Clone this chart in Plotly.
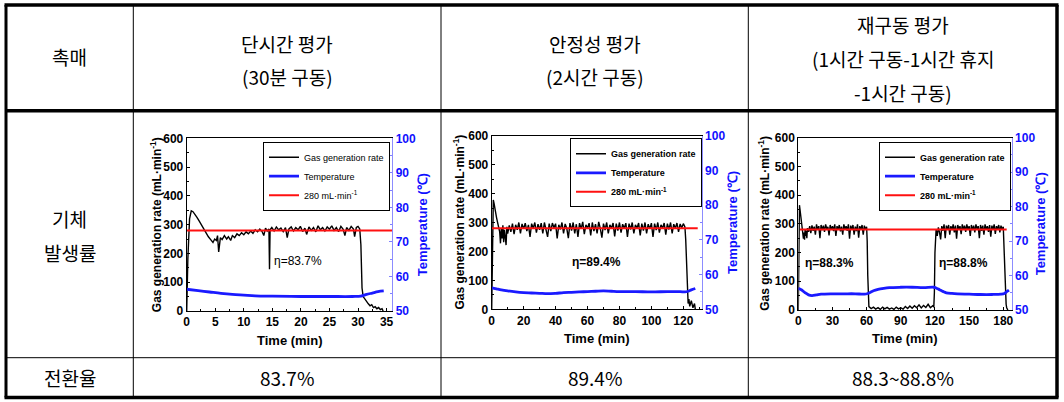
import plotly.graph_objects as go

W, H = 1064, 402

# ---------------- DATA ----------------
# Chart 1: short-term test (30 min)
SHORT_T = [0, 0.2, 0.5, 0.8, 1.1, 1.4, 1.8, 2.2, 2.6, 3.0,
           3.4, 3.8, 4.2, 4.6, 4.9, 5.2, 5.4, 5.6, 5.9, 6.2,
           6.6, 7.0, 7.3, 7.7, 8.0, 8.4, 8.8, 9.2, 9.6, 10.0,
           10.4, 10.8, 11.2, 11.6, 12.0, 12.4, 12.8, 13.2, 13.5, 13.8,
           14.1, 14.4, 14.5, 14.6, 14.9, 15.3, 15.7, 16.1, 16.5, 16.9,
           17.3, 17.6, 17.9, 18.3, 18.7, 19.1, 19.5, 19.9, 20.3, 20.7,
           21.0, 21.4, 21.8, 22.2, 22.6, 23.0, 23.4, 23.8, 24.2, 24.6,
           25.0, 25.4, 25.8, 26.2, 26.6, 27.0, 27.4, 27.7, 28.0, 28.4,
           28.8, 29.2, 29.4, 29.7, 30.0, 30.3, 30.5, 30.7, 30.9, 31.2,
           31.5, 31.8, 32.1, 32.4, 32.7, 33.0, 33.3, 33.6, 33.9, 34.2,
           34.4]
SHORT_GAS = [0, 180, 320, 348, 345, 338, 325, 312, 298, 285,
             270, 258, 248, 238, 250, 245, 262, 205, 255, 248,
             262, 250, 258, 245, 262, 255, 268, 262, 272, 265,
             275, 268, 278, 270, 282, 275, 285, 276, 262, 288,
             278, 285, 145, 282, 290, 278, 292, 282, 288, 276,
             290, 255, 285, 292, 278, 290, 282, 294, 276, 288,
             266, 292, 280, 290, 275, 296, 282, 290, 278, 292,
             284, 296, 280, 290, 276, 294, 284, 262, 290, 280,
             294, 285, 258, 290, 294, 285, 230, 80, 50, 40,
             32, 25, 18, 22, 12, 15, 8, 12, 5, 8,
             0]
SHORT_TEMP_T = [0, 2, 4, 6, 8, 10, 12, 15, 20, 25,
                29, 30.5, 31.5, 32.5, 33.5, 34.5]
SHORT_TEMP = [56.3, 55.9, 55.5, 55.1, 54.8, 54.6, 54.4, 54.3, 54.2, 54.2,
              54.2, 54.3, 54.8, 55.2, 55.6, 55.8]

# Chart 2: stability test (2 h)
STAB_T = [0, 0.5, 1.0, 1.5, 2.0, 2.5, 3.0, 3.5, 4.0, 4.5,
          5.0, 5.5, 6.0, 6.5, 7.0, 7.5, 8.0, 8.5, 9.0, 9.5,
          10, 11, 12, 13, 14, 15, 16, 17, 18, 19,
          20, 21, 22, 23, 24, 25, 26, 27, 28, 29,
          30, 31, 32, 33, 34, 35, 36, 37, 38, 39,
          40, 41, 42, 43, 44, 45, 46, 47, 48, 49,
          50, 51, 52, 53, 54, 55, 56, 57, 58, 59,
          60, 61, 62, 63, 64, 65, 66, 67, 68, 69,
          70, 71, 72, 73, 74, 75, 76, 77, 78, 79,
          80, 81, 82, 83, 84, 85, 86, 87, 88, 89,
          90, 91, 92, 93, 94, 95, 96, 97, 98, 99,
          100, 101, 102, 103, 104, 105, 106, 107, 108, 109,
          110, 111, 112, 113, 114, 115, 116, 117, 118, 119,
          120, 121, 121.5, 122, 122.5, 123, 123.5, 124, 125, 126,
          127, 127.5]
STAB_GAS = [0, 300, 378, 365, 345, 330, 318, 305, 292, 285,
            268, 228, 280, 245, 290, 232, 275, 250, 222, 285,
            262, 290, 268, 296, 260, 292, 275, 300, 262, 295,
            278, 298, 270, 292, 250, 296, 280, 300, 265, 294,
            275, 298, 262, 300, 278, 250, 296, 270, 298, 282,
            296, 245, 292, 276, 300, 262, 295, 280, 246, 298,
            272, 300, 262, 294, 250, 298, 278, 302, 260, 292,
            280, 298, 255, 300, 270, 294, 262, 302, 280, 248,
            296, 274, 300, 262, 292, 280, 298, 252, 296, 272,
            300, 265, 294, 280, 298, 250, 296, 276, 300, 262,
            292, 280, 298, 255, 296, 272, 300, 262, 294, 278,
            298, 250, 296, 274, 300, 265, 292, 280, 298, 258,
            296, 276, 300, 262, 294, 280, 298, 268, 295, 282,
            296, 285, 240, 150, 70, 20, 35, 10, 30, 5,
            20, 0]
STAB_TEMP_T = [0, 3, 6, 10, 15, 20, 25, 30, 35, 40,
               45, 50, 55, 60, 65, 70, 75, 80, 90, 100,
               110, 118, 121, 123, 125, 127.5]
STAB_TEMP = [56.2, 55.9, 55.6, 55.3, 55.0, 54.8, 54.7, 54.6, 54.5, 54.6,
             54.8, 54.9, 55.0, 55.1, 55.2, 55.3, 55.2, 55.1, 55.1, 55.0,
             55.1, 55.1, 55.0, 55.2, 55.6, 56.0]

# Chart 3: restart test (1 h run - 1 h rest - 1 h run)
RE_T = [0, 0.5, 1.0, 1.5, 2.0, 2.5, 3.0, 3.5, 4.0, 4.5,
        5.0, 5.5, 6.0, 6.5, 7.0, 7.5, 8.0, 9, 10, 11,
        12, 13, 14, 15, 16, 17, 18, 19, 20, 21,
        22, 23, 24, 25, 26, 27, 28, 29, 30, 31,
        32, 33, 34, 35, 36, 37, 38, 39, 40, 41,
        42, 43, 44, 45, 46, 47, 48, 49, 50, 51,
        52, 53, 54, 55, 56, 57, 58, 59, 60, 60.5,
        61, 61.5, 62, 64, 66, 68, 70, 72, 74, 76,
        78, 80, 82, 84, 86, 88, 90, 92, 94, 96,
        98, 100, 102, 104, 106, 108, 110, 112, 114, 116,
        118, 119, 119.5, 120, 120.5, 121, 122, 123, 124, 125,
        126, 127, 128, 129, 130, 131, 132, 133, 134, 135,
        136, 137, 138, 139, 140, 141, 142, 143, 144, 145,
        146, 147, 148, 149, 150, 151, 152, 153, 154, 155,
        156, 157, 158, 159, 160, 161, 162, 163, 164, 165,
        166, 167, 168, 169, 170, 171, 172, 173, 174, 175,
        176, 177, 178, 179, 180, 180.5, 181, 181.5, 182, 182.5,
        183, 184]
RE_GAS = [0, 280, 365, 350, 330, 312, 296, 280, 262, 248,
          270, 245, 282, 258, 276, 250, 285, 272, 292, 268,
          295, 276, 290, 262, 298, 280, 292, 250, 296, 278,
          294, 272, 298, 282, 290, 260, 296, 280, 292, 275,
          298, 258, 292, 280, 296, 274, 290, 262, 298, 282,
          292, 276, 298, 248, 294, 280, 296, 262, 290, 275,
          298, 252, 292, 280, 296, 262, 294, 280, 290, 240,
          120, 40, 12, 5, 10, 3, 8, 2, 10, 4,
          9, 3, 7, 2, 10, 4, 8, 3, 12, 5,
          14, 6, 15, 8, 18, 7, 16, 9, 20, 8,
          15, 10, 60, 200, 262, 280, 258, 288, 270, 246,
          292, 276, 298, 250, 294, 280, 296, 262, 292, 278,
          298, 270, 294, 248, 296, 282, 292, 264, 298, 280,
          294, 272, 298, 280, 292, 258, 296, 278, 294, 270,
          298, 282, 292, 250, 296, 276, 294, 262, 298, 280,
          292, 272, 296, 255, 294, 280, 298, 265, 292, 282,
          296, 270, 294, 280, 290, 240, 150, 80, 40, 20,
          8, 0]
RE_TEMP_T = [0, 3, 6, 9, 12, 16, 20, 30, 40, 50,
             58, 61, 63, 66, 70, 75, 80, 90, 100, 110,
             119, 121, 124, 127, 130, 135, 140, 150, 160, 170,
             178, 181, 183, 185]
RE_TEMP = [56.3, 55.8, 55.0, 54.4, 54.2, 54.4, 54.6, 54.7, 54.7, 54.7,
           54.6, 54.8, 55.1, 55.6, 56.0, 56.3, 56.5, 56.6, 56.6, 56.5,
           56.6, 56.4, 55.9, 55.4, 55.0, 54.8, 54.7, 54.6, 54.5, 54.5,
           54.6, 54.8, 55.3, 55.8]

TARGET_RATE = 280
TARGET_SPANS = [(0, 36), (0, 129), (1.5, 183)]
X_RANGES = [(0, 36), (0, 131.5), (0, 187.4)]
X_DTICKS = [5, 20, 30]
Y_TICKS = [0, 100, 200, 300, 400, 500, 600]
T_TICKS = [50, 60, 70, 80, 90, 100]

ETA_LABELS = [
    [("η=83.7%", 19.5, 175)],
    [("η=89.4%", 65.7, 164)],
    [("η=88.3%", 27.8, 162), ("η=88.8%", 144.9, 162)],
]

HEADER_ROW = ["촉매", ["단시간 평가", "(30분 구동)"], ["안정성 평가", "(2시간 구동)"],
              ["재구동 평가", "(1시간 구동-1시간 휴지", "-1시간 구동)"]]
ROW2_LABEL = ["기체", "발생률"]
ROW3 = ["전환율", "83.7%", "89.4%", "88.3~88.8%"]

SERIES = [
    (SHORT_T, SHORT_GAS, SHORT_TEMP_T, SHORT_TEMP),
    (STAB_T, STAB_GAS, STAB_TEMP_T, STAB_TEMP),
    (RE_T, RE_GAS, RE_TEMP_T, RE_TEMP),
]

# ---------------- LAYOUT GEOMETRY (pixels) ----------------
def fx(px):
    return px / W

def fy(py):
    return 1 - py / H

# plot area pixel boxes: (left, right, top, bottom)
PLOT_BOX = [(186.7, 392.3, 138.3, 311.0),
            (491.7, 701.7, 135.7, 309.3),
            (798.3, 1011.7, 137.7, 310.0)]
LEFT_TITLE_X = [155.5, 459.0, 764.0]
RIGHT_TITLE_X = [422.5, 732.5, 1040.5]
XTITLE_Y = [340.0, 338.3, 338.3]
LEGEND_POS = [(390.0, 141.7), (702.0, 138.3), (1011.0, 141.7)]

FONT = "Liberation Sans, Arial, sans-serif"
KFONT = "Noto Sans CJK KR, sans-serif"
BLUE = "#1010ff"

fig = go.Figure()
layout = dict(width=W, height=H, margin=dict(l=0, r=0, t=0, b=0, pad=0),
              autosize=False,
              paper_bgcolor="white", plot_bgcolor="white",
              showlegend=True, annotations=[], shapes=[])

for i, (tg, vg, tt, vt) in enumerate(SERIES):
    n = i + 1
    xa = "x" if n == 1 else f"x{n}"
    yl_idx, yr_idx = 2 * n - 1, 2 * n
    yl = "y" if yl_idx == 1 else f"y{yl_idx}"
    yr = f"y{yr_idx}"
    leg = "legend" if n == 1 else f"legend{n}"
    bold = "normal" if n == 1 else "bold"

    fig.add_trace(go.Scatter(x=tg, y=vg, xaxis=xa, yaxis=yl, mode="lines",
                             line=dict(color="black", width=1.4),
                             name="Gas generation rate", legend=leg))
    fig.add_trace(go.Scatter(x=tt, y=vt, xaxis=xa, yaxis=yr, mode="lines",
                             line=dict(color="#1a1aff", width=2.8, shape="spline"),
                             name="Temperature", legend=leg))
    x0, x1 = TARGET_SPANS[i]
    fig.add_trace(go.Scatter(x=[x0, x1], y=[TARGET_RATE, TARGET_RATE],
                             xaxis=xa, yaxis=yl, mode="lines",
                             line=dict(color="#ff1010", width=2),
                             name="280 mL·min<sup>-1</sup>", legend=leg))

    l, r, t, b = PLOT_BOX[i]
    xname = "xaxis" if n == 1 else f"xaxis{n}"
    ylname = "yaxis" if yl_idx == 1 else f"yaxis{yl_idx}"
    yrname = f"yaxis{yr_idx}"
    tickfont = dict(family=FONT, size=12, color="black", weight="bold")
    layout[xname] = dict(domain=[fx(l), fx(r)], anchor=yl, range=list(X_RANGES[i]),
                         dtick=X_DTICKS[i], tick0=0, ticks="inside", ticklen=3,
                         tickwidth=1, tickcolor="black", automargin=False,
                         minor=dict(ticks="inside", ticklen=2, dtick=X_DTICKS[i] / 2,
                                    tickcolor="black"),
                         showline=True, linecolor="black", linewidth=1, mirror=True,
                         showgrid=False, zeroline=False, tickfont=tickfont)
    layout[ylname] = dict(domain=[fy(b), fy(t)], anchor=xa, range=[0, 600],
                          tickvals=Y_TICKS, ticks="inside", ticklen=3, tickcolor="black",
                          automargin=False,
                          minor=dict(ticks="inside", ticklen=2, dtick=50, tickcolor="black"),
                          showline=True, linecolor="black", linewidth=1,
                          showgrid=False, zeroline=False, tickfont=tickfont)
    layout[yrname] = dict(overlaying=yl, anchor=xa, side="right", range=[50, 100],
                          tickvals=T_TICKS, ticks="inside", ticklen=3, tickcolor="#8080ff",
                          automargin=False,
                          minor=dict(ticks="inside", ticklen=2, dtick=5, tickcolor="#8080ff"),
                          showline=True, linecolor="#8c8cff", linewidth=1,
                          showgrid=False, zeroline=False,
                          tickfont=dict(family=FONT, size=12, color=BLUE, weight="bold"))

    lx, ly = LEGEND_POS[i]
    layout[leg] = dict(x=fx(lx), y=fy(ly), xanchor="right", yanchor="top",
                       xref="paper", yref="paper",
                       bordercolor="black", borderwidth=1, bgcolor="white",
                       font=dict(family=FONT, size=9, color="black", weight=bold),
                       tracegroupgap=0, itemwidth=30)

    # axis titles
    cy = (t + b) / 2
    cx = (l + r) / 2
    layout["annotations"].append(dict(
        x=fx(LEFT_TITLE_X[i]), y=fy(cy), xref="paper", yref="paper",
        xanchor="center", yanchor="middle",
        text="Gas generation rate (mL·min<sup>-1</sup>)", textangle=-90,
        showarrow=False, font=dict(family=FONT, size=12, color="black", weight="bold")))
    layout["annotations"].append(dict(
        x=fx(RIGHT_TITLE_X[i]), y=fy(cy), xref="paper", yref="paper",
        xanchor="center", yanchor="middle",
        text="Temperature (℃)", textangle=-90,
        showarrow=False, font=dict(family=FONT, size=13, color=BLUE, weight="bold")))
    layout["annotations"].append(dict(
        x=fx(cx), y=fy(XTITLE_Y[i]), xref="paper", yref="paper",
        xanchor="center", yanchor="middle",
        text="Time (min)", showarrow=False,
        font=dict(family=FONT, size=13, color="black", weight="bold")))
    for txt, ax_, ay_ in ETA_LABELS[i]:
        layout["annotations"].append(dict(
            x=ax_, y=ay_, xref=xa, yref=yl, text=txt, showarrow=False,
            xanchor="center", yanchor="middle",
            font=dict(family=FONT, size=12, color="black", weight=bold)))

# ---------------- TABLE ----------------
COL_X = [6.0, 133.3, 441.0, 748.3, 1057.0]
TOP_Y, HEAD_Y, ROW_Y, BOT_Y = 5.0, 110.8, 357.7, 397.5

def hline(y, x0, x1, w):
    return dict(type="line", xref="paper", yref="paper",
                x0=fx(x0), x1=fx(x1), y0=fy(y), y1=fy(y),
                line=dict(color="black", width=w))

def vline(x, y0, y1, w):
    return dict(type="line", xref="paper", yref="paper",
                x0=fx(x), x1=fx(x), y0=fy(y0), y1=fy(y1),
                line=dict(color="black", width=w))

layout["shapes"] += [
    hline(TOP_Y, COL_X[0] - 1.5, COL_X[-1] + 1.5, 3.5),
    hline(BOT_Y, COL_X[0] - 1.5, COL_X[-1] + 1.5, 3.5),
    vline(COL_X[0], TOP_Y, BOT_Y, 3.0),
    vline(COL_X[-1], TOP_Y, BOT_Y, 3.5),
    hline(HEAD_Y, COL_X[0], COL_X[-1], 3.5),
    hline(ROW_Y, COL_X[0], COL_X[-1], 1),
    vline(COL_X[1], TOP_Y, BOT_Y, 1),
    vline(COL_X[2], TOP_Y, BOT_Y, 1),
    vline(COL_X[3], TOP_Y, BOT_Y, 1),
]

col_cx = [(COL_X[k] + COL_X[k + 1]) / 2 for k in range(4)]

def ktext(x, y, s, size=19):
    layout["annotations"].append(dict(
        x=fx(x), y=fy(y), xref="paper", yref="paper", text=s, showarrow=False,
        xanchor="center", yanchor="middle",
        font=dict(family=KFONT, size=size, color="black")))

ktext(col_cx[0], 57, HEADER_ROW[0])
ktext(col_cx[1], 43, HEADER_ROW[1][0])
ktext(col_cx[1], 76, HEADER_ROW[1][1])
ktext(col_cx[2], 43, HEADER_ROW[2][0])
ktext(col_cx[2], 76, HEADER_ROW[2][1])
ktext(col_cx[3], 25, HEADER_ROW[3][0])
ktext(col_cx[3], 59, HEADER_ROW[3][1])
ktext(col_cx[3], 92, HEADER_ROW[3][2])
ktext(col_cx[0], 218, ROW2_LABEL[0])
ktext(col_cx[0], 252, ROW2_LABEL[1])
for k in range(4):
    ktext(col_cx[k], 377, ROW3[k])

fig.update_layout(**layout)
fig.write_html(
    "out.html",
    config={"responsive": False, "displayModeBar": False},
    post_script="document.body.style.margin='0';document.body.style.overflow='hidden';",
)
